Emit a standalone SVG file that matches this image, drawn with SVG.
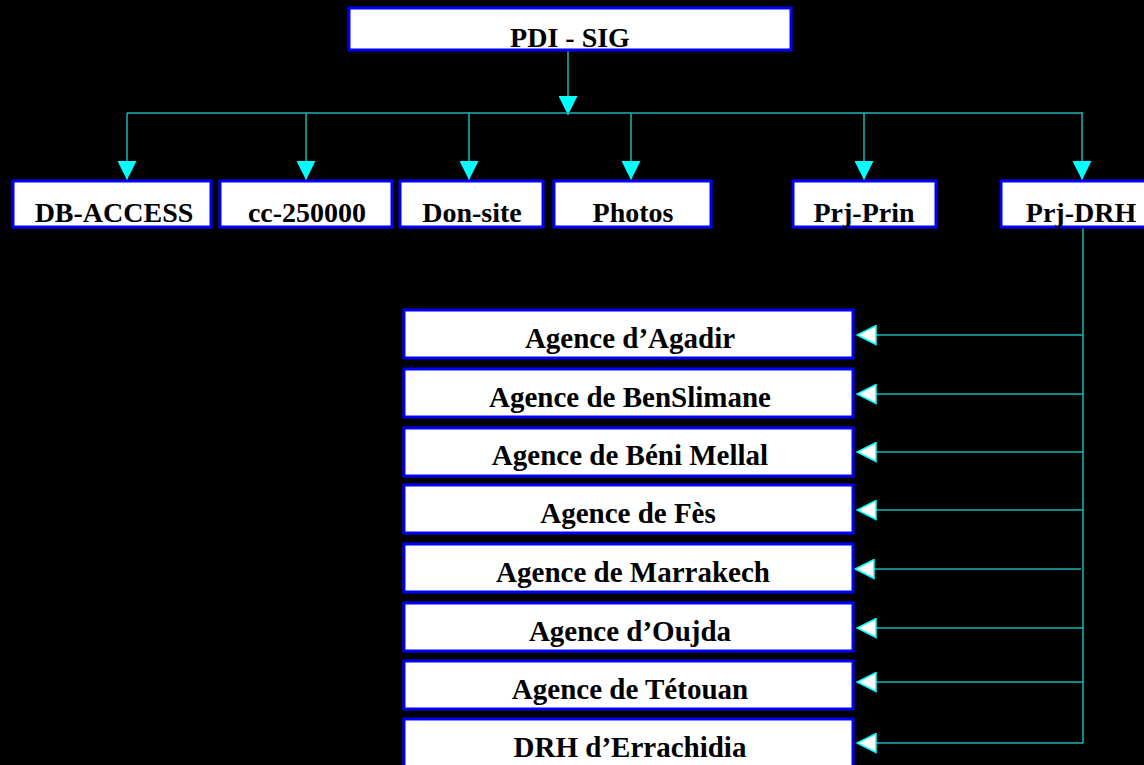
<svg xmlns="http://www.w3.org/2000/svg" width="1144" height="765" viewBox="0 0 1144 765">
<defs>
<style>
.box{fill:#fff;stroke:#0000ff;stroke-width:3}
.lbl{font-family:"Liberation Serif","Times New Roman",serif;font-weight:bold;font-size:28px;fill:#000;text-anchor:middle}
.ag{font-size:29px}
.ln{fill:none;stroke:#1ab4b4;stroke-width:1.5}
</style>
<marker id="down" viewBox="0 0 19 19" refX="19" refY="9.5" markerWidth="19" markerHeight="19" markerUnits="userSpaceOnUse" orient="auto">
<path d="M0,0 L19,9.5 L0,19 Z" fill="#00ffff"/>
</marker>
<marker id="left" viewBox="-1 -1 21 21" refX="19" refY="9.5" markerWidth="21" markerHeight="21" markerUnits="userSpaceOnUse" orient="auto">
<path d="M0,0 L19,9.5 L0,19 Z" fill="#ffffff" stroke="#00ffff" stroke-width="1.5"/>
</marker>
</defs>
<rect width="1144" height="765" fill="#000"/>
<g id="connectors">
<path class="ln" d="M568,50 V115" marker-end="url(#down)"/>
<path class="ln" d="M127,113 H1083"/>
<path class="ln" d="M127,113 V180" marker-end="url(#down)"/>
<path class="ln" d="M306,113 V180" marker-end="url(#down)"/>
<path class="ln" d="M469,113 V180" marker-end="url(#down)"/>
<path class="ln" d="M631,113 V180" marker-end="url(#down)"/>
<path class="ln" d="M864,113 V180" marker-end="url(#down)"/>
<path class="ln" d="M1082,113 V180" marker-end="url(#down)"/>
<path class="ln" d="M1083,227 V743"/>
<path class="ln" d="M1083,335 H857" marker-end="url(#left)"/>
<path class="ln" d="M1083,394 H857" marker-end="url(#left)"/>
<path class="ln" d="M1083,452 H857" marker-end="url(#left)"/>
<path class="ln" d="M1083,510 H857" marker-end="url(#left)"/>
<path class="ln" d="M1081,569 H855" marker-end="url(#left)"/>
<path class="ln" d="M1083,628 H857" marker-end="url(#left)"/>
<path class="ln" d="M1083,682 H857" marker-end="url(#left)"/>
<path class="ln" d="M1083,743 H857" marker-end="url(#left)"/>
</g>
<g id="n-pdi"><rect class="box" x="349" y="8" width="442" height="42"/><text class="lbl" x="570" y="47">PDI - SIG</text></g>
<g id="n-dbaccess"><rect class="box" x="13" y="181" width="198" height="46"/><text class="lbl" x="114" y="222">DB-ACCESS</text></g>
<g id="n-cc"><rect class="box" x="220" y="181" width="172" height="46"/><text class="lbl" x="307" y="222">cc-250000</text></g>
<g id="n-donsite"><rect class="box" x="400" y="181" width="143" height="46"/><text class="lbl" x="472" y="222">Don-site</text></g>
<g id="n-photos"><rect class="box" x="554" y="181" width="157" height="46"/><text class="lbl" x="633" y="222">Photos</text></g>
<g id="n-prjprin"><rect class="box" x="793" y="181" width="143" height="46"/><text class="lbl" x="864" y="222">Prj-Prin</text></g>
<g id="n-prjdrh"><rect class="box" x="1001" y="181" width="160" height="46"/><text class="lbl" x="1081" y="222">Prj-DRH</text></g>
<g id="n-agadir"><rect class="box" x="404" y="310" width="449" height="48"/><text class="lbl ag" x="630" y="348">Agence d’Agadir</text></g>
<g id="n-benslimane"><rect class="box" x="404" y="369" width="449" height="48"/><text class="lbl ag" x="630" y="407">Agence de BenSlimane</text></g>
<g id="n-benimellal"><rect class="box" x="404" y="428" width="449" height="48"/><text class="lbl ag" x="630" y="465">Agence de Béni Mellal</text></g>
<g id="n-fes"><rect class="box" x="404" y="485" width="449" height="48"/><text class="lbl ag" x="628" y="523">Agence de Fès</text></g>
<g id="n-marrakech"><rect class="box" x="404" y="544" width="449" height="48"/><text class="lbl ag" x="633" y="582">Agence de Marrakech</text></g>
<g id="n-oujda"><rect class="box" x="404" y="603" width="449" height="48"/><text class="lbl ag" x="630" y="641">Agence d’Oujda</text></g>
<g id="n-tetouan"><rect class="box" x="404" y="661" width="449" height="48"/><text class="lbl ag" x="630" y="699">Agence de Tétouan</text></g>
<g id="n-errachidia"><rect class="box" x="404" y="719" width="449" height="50"/><text class="lbl ag" x="630" y="757">DRH d’Errachidia</text></g>
</svg>
